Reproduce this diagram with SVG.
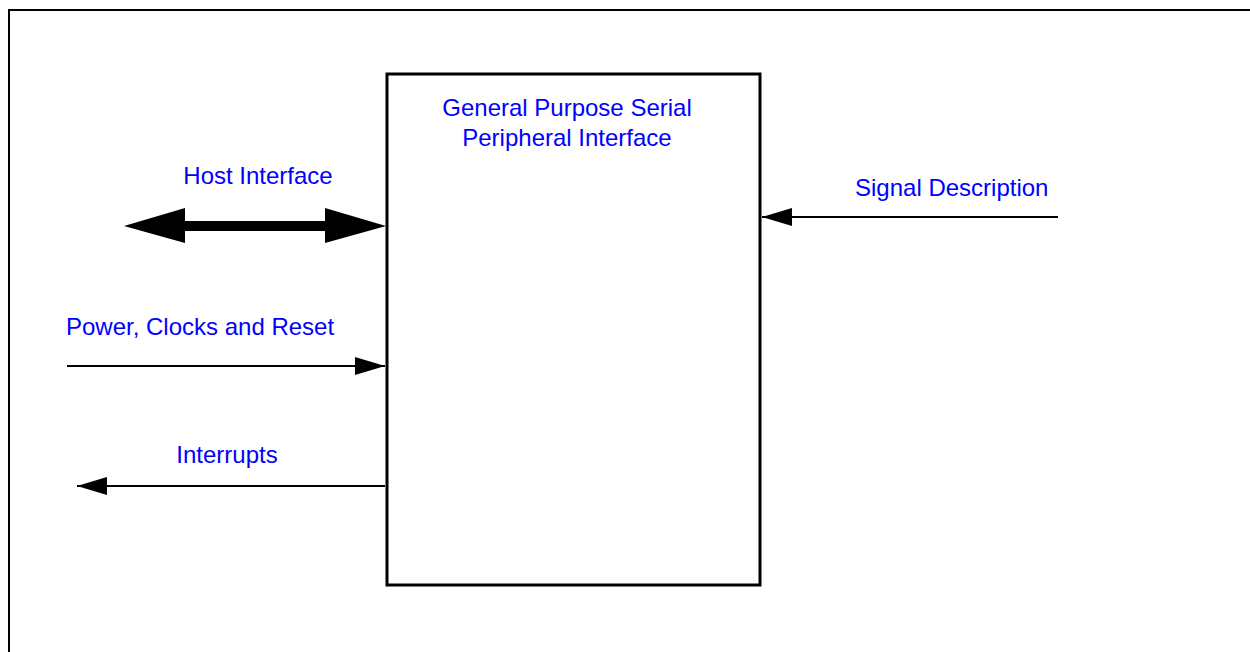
<svg xmlns="http://www.w3.org/2000/svg" width="1250" height="652" viewBox="0 0 1250 652">
<style>
.lbl{font-family:"Liberation Sans",Arial,sans-serif;font-size:24px;fill:#0000ff}
.ln{stroke:#000;stroke-width:2;fill:none}
</style>
<defs>
<marker id="ah" viewBox="0 0 30 18" refX="30" refY="9" markerWidth="30" markerHeight="18" markerUnits="userSpaceOnUse" orient="auto">
<path d="M0,0 L30,9 L0,18 Z" fill="#000"/>
</marker>
</defs>
<rect x="0" y="0" width="1250" height="652" fill="#fff"/>
<rect id="frame" x="9" y="10" width="1260" height="700" fill="none" stroke="#000" stroke-width="2"/>
<g id="gpspi">
<rect x="387" y="74" width="373" height="511" fill="#fff" stroke="#000" stroke-width="3"/>
<text class="lbl" x="567" y="116" text-anchor="middle">General Purpose Serial</text>
<text class="lbl" x="567" y="146" text-anchor="middle">Peripheral Interface</text>
</g>
<g id="labels">
<text class="lbl" x="258" y="184" text-anchor="middle">Host Interface</text>
<text class="lbl" x="855" y="196">Signal Description</text>
<text class="lbl" x="66" y="335">Power, Clocks and Reset</text>
<text class="lbl" x="227" y="463" text-anchor="middle">Interrupts</text>
</g>
<g id="connectors">
<rect x="184" y="221" width="142" height="10" fill="#000"/>
<path d="M124,226 L185,208 L185,243 Z" fill="#000"/>
<path d="M386,226 L325,208 L325,243 Z" fill="#000"/>
<line class="ln" x1="1058" y1="217" x2="762" y2="217" marker-end="url(#ah)"/>
<line class="ln" x1="67" y1="366" x2="385" y2="366" marker-end="url(#ah)"/>
<line class="ln" x1="385" y1="486" x2="77" y2="486" marker-end="url(#ah)"/>
</g>
</svg>
